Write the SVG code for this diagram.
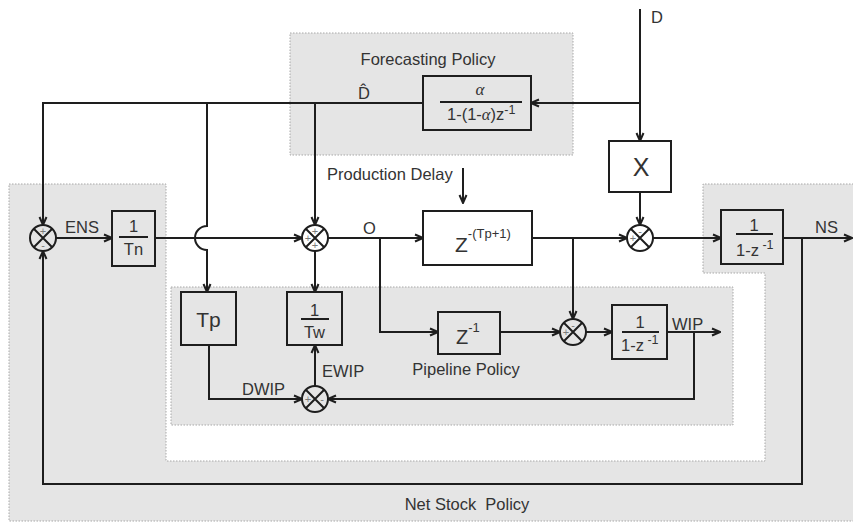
<svg xmlns="http://www.w3.org/2000/svg" width="853" height="523" viewBox="0 0 853 523">
<defs>
<style>
.region{fill:#e5e5e5;stroke:#a8a8a8;stroke-width:1;stroke-dasharray:1.5 1.5}
.blk{fill:none;stroke:#1e1e1e;stroke-width:2}
.ln{fill:none;stroke:#1e1e1e;stroke-width:2;marker-end:url(#arr)}
.jn{fill:none;stroke:#1e1e1e;stroke-width:2}
text{font-family:"Liberation Sans",Arial,sans-serif;fill:#333}
.lbl{font-size:16.5px}
.sgn{font-size:11px;fill:#7a7a7a;text-anchor:middle}
.mid{text-anchor:middle}
.gr{font-family:"Liberation Serif","Times New Roman",serif;font-style:italic}
.fr{font-size:16.5px}
.sup{font-size:12.5px}
</style>
<marker id="arr" viewBox="0 0 10 10" refX="9" refY="5" markerWidth="10" markerHeight="10" markerUnits="userSpaceOnUse" orient="auto">
<path d="M1,1.5 L9,5 L1,8.5" fill="none" stroke="#1e1e1e" stroke-width="2"/>
</marker>
<path id="xcross" d="M-9.2,-9.2L9.2,9.2M-9.2,9.2L9.2,-9.2"/>
</defs>
<rect width="853" height="523" fill="#fff"/>
<g id="regions">
<polygon class="region" points="9,184 166,184 166,461 765,461 765,273 703,273 703,184 860,184 860,521 9,521"/>
<rect class="region" x="290" y="33" width="283" height="122"/>
<rect class="region" x="171" y="287" width="562" height="138"/>
<text class="lbl mid" x="428" y="65">Forecasting Policy</text>
<text class="lbl mid" x="466" y="375">Pipeline Policy</text>
<text class="lbl mid" x="467" y="510" xml:space="preserve">Net Stock  Policy</text>
</g>
<g id="connectors">
<path class="ln" d="M640,9 V141"/>
<path class="ln" d="M640,103 H531"/>
<path class="ln" d="M423,103 H43 V225"/>
<path class="ln" d="M207,103 V226 A12,12 0 0 0 207,250 V292"/>
<path class="ln" d="M315,103 V225"/>
<path class="ln" d="M56,238 H112"/>
<path class="ln" d="M155,238 H302"/>
<path class="ln" d="M328,238 H423"/>
<path class="ln" d="M315,251 V292"/>
<path class="ln" d="M380,238 V332 H438"/>
<path class="ln" d="M532,238 H627"/>
<path class="ln" d="M573,238 V319"/>
<path class="ln" d="M640,192 V225"/>
<path class="ln" d="M653,238 H721"/>
<path class="ln" d="M783,238 H852"/>
<path class="ln" d="M802,238 V484 H43 V251"/>
<path class="ln" d="M463,168 V203"/>
<path class="ln" d="M500,332 H560"/>
<path class="ln" d="M586,332 H612"/>
<path class="ln" d="M667,332 H720"/>
<path class="ln" d="M694,332 V399 H328"/>
<path class="ln" d="M209,345 V399 H302"/>
<path class="ln" d="M315,386 V345"/>
</g>
<g id="labels">
<text class="lbl" x="651" y="23">D</text>
<text class="lbl" x="358" y="99">D̂</text>
<text class="lbl" x="65" y="233">ENS</text>
<text class="lbl" x="363" y="234">O</text>
<text class="lbl" x="327" y="180">Production Delay</text>
<text class="lbl" x="815" y="233">NS</text>
<text class="lbl" x="672" y="330">WIP</text>
<text class="lbl" x="322" y="377">EWIP</text>
<text class="lbl" x="242" y="395">DWIP</text>
</g>
<g id="forecast">
<rect class="blk" x="423" y="76" width="108" height="54"/>
<line class="blk" x1="440" y1="102" x2="522" y2="102"/>
<text class="gr mid" x="480" y="95" font-size="17">α</text>
<text x="447" y="120" font-size="16.5">1-(1-<tspan class="gr">α</tspan>)z<tspan class="sup" dy="-6">-1</tspan></text>
</g>
<g id="X">
<rect class="blk" x="609" y="141" width="62" height="51"/>
<text class="mid" x="641" y="176" font-size="25">X</text>
</g>
<g id="J1" transform="translate(43,238)">
<circle class="jn" r="13"/><use href="#xcross" class="jn"/>
<text class="sgn" y="-3.5">+</text><text class="sgn" y="11">-</text>
</g>
<g id="Tn">
<rect class="blk" x="112" y="211" width="43" height="55"/>
<line class="blk" x1="119" y1="237" x2="148" y2="237"/>
<text class="mid fr" x="133.5" y="232">1</text>
<text class="mid fr" x="133.5" y="255">Tn</text>
</g>
<g id="J2" transform="translate(315,238)">
<circle class="jn" r="13"/><use href="#xcross" class="jn"/>
<text class="sgn" y="-3.5">+</text><text class="sgn" x="-7" y="3.5">+</text><text class="sgn" y="11">+</text>
</g>
<g id="delay">
<rect class="blk" x="423" y="211" width="109" height="54"/>
<text x="455" y="252" font-size="21">Z<tspan font-size="13" dy="-14">-(Tp+1)</tspan></text>
</g>
<g id="J3" transform="translate(640,238)">
<circle class="jn" r="13"/><use href="#xcross" class="jn"/>
<text class="sgn" y="-3.5">-</text><text class="sgn" x="-7" y="3.5">+</text>
</g>
<g id="NSblock">
<rect class="blk" x="721" y="210" width="62" height="54"/>
<line class="blk" x1="736" y1="234" x2="773" y2="234"/>
<text class="mid fr" x="754" y="231">1</text>
<text class="fr" x="736" y="256">1-z<tspan class="sup" dy="-7"> -1</tspan></text>
</g>
<g id="Tp">
<rect class="blk" x="181" y="292" width="55" height="53"/>
<text class="mid" x="208.5" y="327" font-size="21">Tp</text>
</g>
<g id="Tw">
<rect class="blk" x="287" y="292" width="55" height="53"/>
<line class="blk" x1="301" y1="319" x2="329" y2="319"/>
<text class="mid fr" x="314.5" y="316">1</text>
<text class="mid fr" x="314.5" y="338">Tw</text>
</g>
<g id="J4" transform="translate(315,399)">
<circle class="jn" r="13"/><use href="#xcross" class="jn"/>
<text class="sgn" x="-7" y="3.5">+</text><text class="sgn" x="7" y="3.5">-</text>
</g>
<g id="zinv">
<rect class="blk" x="438" y="312" width="62" height="42"/>
<text x="456" y="344" font-size="20">Z<tspan font-size="13" dy="-12">-1</tspan></text>
</g>
<g id="J5" transform="translate(573,332)">
<circle class="jn" r="13"/><use href="#xcross" class="jn"/>
<text class="sgn" y="-3.5">-</text><text class="sgn" x="-7" y="3.5">+</text>
</g>
<g id="WIPblock">
<rect class="blk" x="612" y="305" width="55" height="54"/>
<line class="blk" x1="622" y1="332" x2="659" y2="332"/>
<text class="mid fr" x="640" y="328">1</text>
<text class="fr" x="621" y="351">1-z<tspan class="sup" dy="-7"> -1</tspan></text>
</g>
</svg>
